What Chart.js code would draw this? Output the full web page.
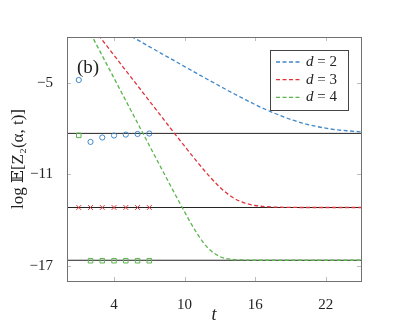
<!DOCTYPE html>
<html>
<head>
<meta charset="utf-8">
<script src="https://cdn.jsdelivr.net/npm/chart.js@4/dist/chart.umd.min.js"></script>
<style>
html,body{margin:0;padding:0;background:#fff;}
#wrap{width:408px;height:335px;position:relative;}
</style>
</head>
<body>
<div id="wrap"><canvas id="c" width="408" height="335"></canvas></div>
<script>
// ---- data ----
const xTickVals = [4, 10, 16, 22];
const yTickVals = [-5, -11, -17];
const seriesLabels = ['d = 2', 'd = 3', 'd = 4'];
const seriesColors = ['#3f88c8', '#e0333a', '#5ab54b'];

const curveT_d2 = [5,6,7,8,9,10,11,12,13,14,15,16,17,18,19,20,21,22,23,24,25];
const curveD2 = [-1.75,-2.19,-2.63,-3.07,-3.50,-3.94,-4.37,-4.80,-5.22,-5.64,-6.04,-6.43,-6.79,-7.11,-7.40,-7.64,-7.83,-7.98,-8.09,-8.16,-8.22];

const curveT_d3 = [2,3,4,5,6,7,8,9,10,11,12,13,14,15,16,17,18,19,20,21,22,23,24,25];
const curveD3 = [-1.21,-2.20,-3.20,-4.20,-5.19,-6.19,-7.18,-8.18,-9.16,-10.12,-11.04,-11.85,-12.48,-12.86,-13.05,-13.13,-13.16,-13.17,-13.18,-13.18,-13.18,-13.18,-13.18,-13.18];

const curveT_d4 = [2,3,4,5,6,7,8,9,10,11,12,13,14,15,16,17,18,19,20,21,22,23,24,25];
const curveD4 = [-1.76,-3.23,-4.70,-6.17,-7.64,-9.11,-10.58,-12.04,-13.47,-14.81,-15.85,-16.40,-16.58,-16.62,-16.64,-16.64,-16.64,-16.64,-16.64,-16.64,-16.64,-16.64,-16.64,-16.64];

const markT = [1,2,3,4,5,6,7];
const markD2 = [-4.82,-8.88,-8.59,-8.46,-8.40,-8.36,-8.33];
const markD3 = [-13.18,-13.18,-13.18,-13.18,-13.18,-13.18,-13.18];
const markD4 = [-8.45,-16.67,-16.67,-16.67,-16.67,-16.67,-16.67];

const asymptotes = [-8.32, -13.18, -16.64];
const xRange = [0, 25];
const yRange = [-18, -2];

// ---- build ----
const pts = (xs, ys) => xs.map((x, i) => ({x, y: ys[i]}));
const SERIF = '"Liberation Serif", "DejaVu Serif", serif';

const curveDs = [[curveT_d2, curveD2], [curveT_d3, curveD3], [curveT_d4, curveD4]].map((c, i) => ({
  type: 'line', label: seriesLabels[i], data: pts(c[0], c[1]),
  borderColor: seriesColors[i], backgroundColor: seriesColors[i],
  borderWidth: 1.3, borderDash: [4, 2.5], pointRadius: 0,
  cubicInterpolationMode: 'monotone', order: 1
}));

const markStyles = ['circle', 'crossRot', 'rect'];
const markRadius = [2.6, 3.4, 3.2];
const markDs = [markD2, markD3, markD4].map((m, i) => ({
  type: 'line', label: 'm' + i, data: pts(markT, m), showLine: false,
  pointStyle: markStyles[i], pointRadius: markRadius[i], pointBorderWidth: 1,
  pointBorderColor: seriesColors[i], pointBackgroundColor: 'rgba(0,0,0,0)',
  borderColor: seriesColors[i], order: 0
}));

const asymDs = asymptotes.map((v, i) => ({
  type: 'line', label: 'a' + i, data: pts(xRange, [v, v]),
  borderColor: '#222', borderWidth: 1, pointRadius: 0, order: 3
}));

const overlay = {
  id: 'overlay',
  afterDatasetsDraw(chart) {
    const {ctx, chartArea: a, scales: {x, y}} = chart;
    ctx.save();
    // inward tick marks
    ctx.strokeStyle = '#bdbdbd'; ctx.lineWidth = 1;
    const seg = (x1, y1, x2, y2) => { ctx.beginPath(); ctx.moveTo(x1, y1); ctx.lineTo(x2, y2); ctx.stroke(); };
    xTickVals.forEach(v => { const px = Math.round(x.getPixelForValue(v)) + 0.5; seg(px, a.bottom, px, a.bottom - 4); seg(px, a.top, px, a.top + 4); });
    yTickVals.forEach(v => { const py = Math.round(y.getPixelForValue(v)) + 0.5; seg(a.left, py, a.left + 4, py); seg(a.right, py, a.right - 4, py); });
    // frame
    ctx.strokeStyle = '#707070';
    ctx.strokeRect(Math.round(a.left) + 0.5, Math.round(a.top) + 0.5, Math.round(a.right - a.left), Math.round(a.bottom - a.top));
    // panel label
    ctx.fillStyle = '#222';
    ctx.font = '19px ' + SERIF;
    ctx.textBaseline = 'middle'; ctx.textAlign = 'left';
    ctx.fillText('(b)', a.left + 10, a.top + 31);
    // legend box
    const bx = a.left + 203, by = a.top + 13, bw = 78, bh = 60;
    ctx.fillStyle = '#fff';
    ctx.fillRect(bx, by, bw, bh);
    ctx.strokeStyle = '#444';
    ctx.strokeRect(bx + 0.5, by + 0.5, bw, bh);
    seriesLabels.forEach((lab, i) => {
      const ly = by + 12 + i * 17.7;
      ctx.strokeStyle = seriesColors[i]; ctx.lineWidth = 1.3;
      ctx.setLineDash([4, 2.5]);
      seg(bx + 6, ly, bx + 30, ly);
      ctx.setLineDash([]);
      ctx.fillStyle = '#222';
      let tx = bx + 36;
      ctx.font = 'italic 15px ' + SERIF;
      const parts = lab.split(' ');
      ctx.fillText(parts[0], tx, ly);
      tx += ctx.measureText(parts[0]).width;
      ctx.font = '15px ' + SERIF;
      ctx.fillText(' ' + parts.slice(1).join(' '), tx, ly);
    });
    ctx.restore();
  }
};

new Chart(document.getElementById('c'), {
  type: 'line',
  data: {datasets: [...markDs, ...curveDs, ...asymDs]},
  options: {
    responsive: false, animation: false,
    layout: {padding: {top: 37, right: 47, left: 0, bottom: 0}},
    plugins: {legend: {display: false}, tooltip: {enabled: false}},
    scales: {
      x: {
        type: 'linear', min: xRange[0], max: xRange[1],
        grid: {display: false}, border: {display: false},
        afterBuildTicks: s => { s.ticks = xTickVals.map(v => ({value: v})); },
        afterFit: s => { s.height = 54; },
        ticks: {color: '#222', padding: 7, font: {family: SERIF, size: 15}, maxRotation: 0},
        title: {display: true, text: 't', color: '#222', font: {family: SERIF, size: 18, style: 'italic'}, padding: {top: 0, bottom: 9}}
      },
      y: {
        type: 'linear', min: yRange[0], max: yRange[1],
        grid: {display: false}, border: {display: false},
        afterBuildTicks: s => { s.ticks = yTickVals.map(v => ({value: v})); },
        afterFit: s => { s.width = 67; },
        ticks: {color: '#222', padding: 6, font: {family: SERIF, size: 15},
          callback: v => (v < 0 ? '\u2212' + Math.abs(v) : String(v))},
        title: {display: true, text: 'log \uD835\uDD3C[Z\u2082(\u03B1, t)]', color: '#222', font: {family: SERIF, size: 17}, padding: {top: 8, bottom: 0}}
      }
    }
  },
  plugins: [overlay]
});
</script>
</body>
</html>
